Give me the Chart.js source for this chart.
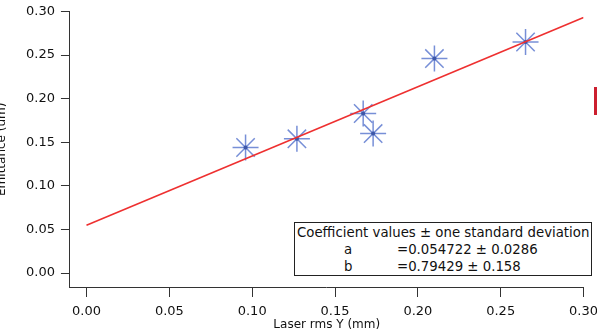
<!DOCTYPE html>
<html>
<head>
<meta charset="utf-8">
<script src="https://cdn.jsdelivr.net/npm/chart.js@4"></script>
<style>
    html, body { margin: 0; padding: 0; background: #fff; overflow: hidden; }
    #wrap { position: relative; width: 597px; height: 332px; overflow: hidden; }
    #chart { position: absolute; left: -4px; top: -3px; }
    #coefBox {
        position: absolute; left: 294px; top: 222px; width: 296px; height: 52px;
        border: 1px solid #222; background: #fff;
        font-family: "DejaVu Sans", sans-serif; font-size: 13.3px; color: #111;
    }
    #coefBox div { position: absolute; white-space: nowrap; line-height: 15px; }
    #redMark { position: absolute; left: 594px; top: 87px; width: 3px; height: 28px; background: #cc1f2f; }
</style>
</head>
<body>
<div id="wrap">
    <canvas id="chart" width="610" height="335"></canvas>
    <div id="coefBox">
        <div style="left:2px; top:2px;">Coefficient values ± one standard deviation</div>
        <div style="left:49px; top:19px;">a</div>
        <div style="left:102px; top:19px;">=0.054722 ± 0.0286</div>
        <div style="left:49px; top:36px;">b</div>
        <div style="left:102px; top:36px;">=0.79429 ± 0.158</div>
    </div>
    <div id="redMark"></div>
</div>
<script>
// Data
const laserRms = [0.096, 0.127, 0.167, 0.173, 0.210, 0.265];
const emittance = [0.144, 0.154, 0.183, 0.160, 0.246, 0.265];

// Fit line end points
const fitX = [0.0, 0.30];
const fitY = [0.0547, 0.293];

const xTicks = [0.00, 0.05, 0.10, 0.15, 0.20, 0.25, 0.30];
const yTicks = [0.00, 0.05, 0.10, 0.15, 0.20, 0.25, 0.30];

const points = laserRms.map((x, i) => ({ x: x, y: emittance[i] }));
const fitLine = fitX.map((x, i) => ({ x: x, y: fitY[i] }));

const tickFont = { family: 'DejaVu Sans', size: 13, lineHeight: 1 };
const titleFont = { family: 'DejaVu Sans', size: 12, lineHeight: 1 };
const axisColor = '#333';

new Chart(document.getElementById('chart').getContext('2d'), {
    type: 'scatter',
    data: {
        datasets: [
            {
                type: 'line',
                label: 'fit',
                data: fitLine,
                borderColor: '#ee3030',
                borderWidth: 1.6,
                pointRadius: 0,
                fill: false
            },
            {
                label: 'centres',
                data: points,
                pointStyle: 'circle',
                pointRadius: 2,
                backgroundColor: '#3d57a8',
                borderWidth: 0
            },
            {
                label: 'emittance',
                data: points,
                pointStyle: 'star',
                pointRadius: 13,
                borderColor: 'rgba(85, 115, 205, 0.8)',
                backgroundColor: 'rgba(85, 115, 205, 0.8)',
                borderWidth: 1.5
            }
        ]
    },
    options: {
        responsive: false,
        animation: false,
        layout: { padding: { top: 0, right: 0, bottom: 0, left: 0 } },
        plugins: {
            legend: { display: false },
            tooltip: { enabled: false }
        },
        scales: {
            x: {
                type: 'linear',
                min: -0.01,
                max: 0.30,
                afterBuildTicks: axis => { axis.ticks = xTicks.map(v => ({ value: v })); },
                grid: { drawOnChartArea: false, drawTicks: true, tickLength: 10, color: axisColor },
                border: { display: true, color: axisColor, width: 1 },
                ticks: {
                    font: tickFont, color: '#111', padding: 8, maxRotation: 0,
                    callback: v => v.toFixed(2)
                },
                title: {
                    display: true, text: 'Laser rms Y (mm)',
                    font: titleFont, color: '#111', padding: { top: -7, bottom: 1 }
                }
            },
            y: {
                type: 'linear',
                min: -0.016,
                max: 0.30,
                afterBuildTicks: axis => { axis.ticks = yTicks.map(v => ({ value: v })); },
                grid: { drawOnChartArea: false, drawTicks: true, tickLength: 9, color: axisColor },
                border: { display: true, color: axisColor, width: 1 },
                ticks: {
                    font: tickFont, color: '#111', padding: 6,
                    callback: v => v.toFixed(2)
                },
                title: {
                    display: true, text: 'Emittance (um)',
                    font: titleFont, color: '#111', padding: { top: 0, bottom: 12 }
                }
            }
        }
    }
});
</script>
</body>
</html>
